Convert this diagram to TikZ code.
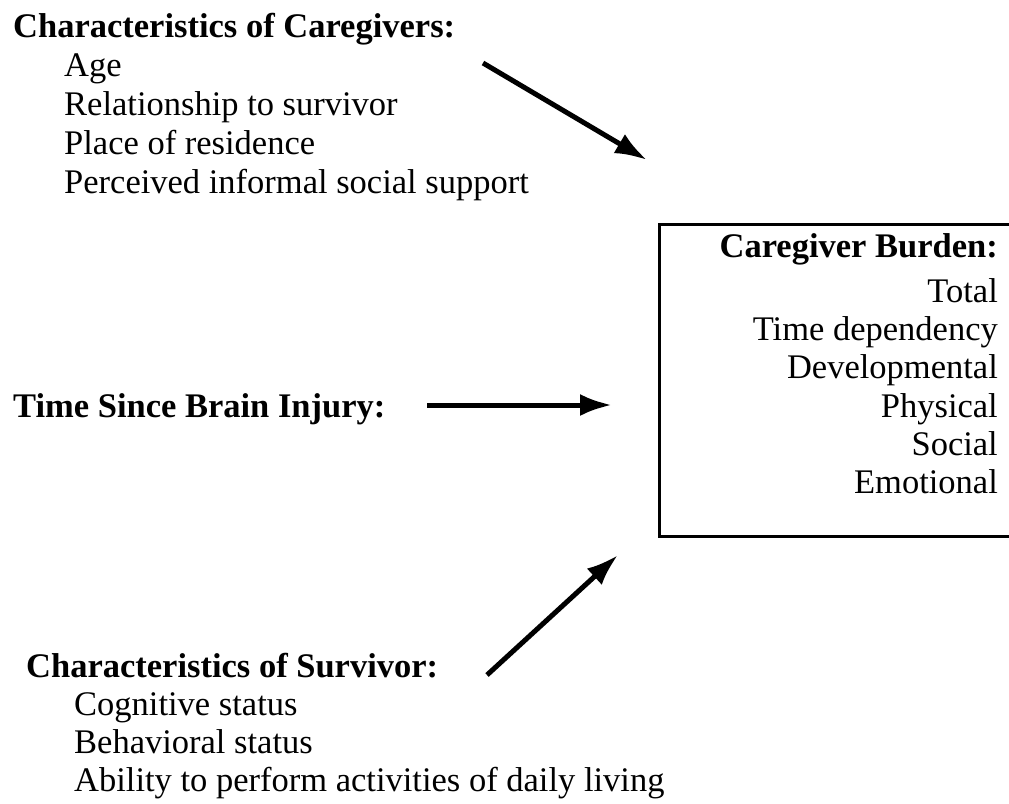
\documentclass[tikz,border=0pt]{standalone}
\usepackage{fontspec}
\setmainfont{Liberation Serif}
\usetikzlibrary{arrows.meta}

\begin{document}
\begin{tikzpicture}[x=1pt,y=-1pt,
  txt/.style={inner sep=0pt,font=\fontsize{34.5}{39}\selectfont},
  hd/.style={inner sep=0pt,font=\fontsize{34.5}{39}\selectfont\bfseries},
  arr/.style={line width=5pt,-{Latex[length=32pt,width=22pt]}}]
\useasboundingbox (0,0) rectangle (1009,803);
% caregivers
\node[hd,anchor=base west] (cg) at (13,37) {Characteristics of Caregivers:};
\foreach \t [count=\i] in {Age,Relationship to survivor,Place of residence,Perceived informal social support}
  \node[txt,anchor=base west] (cg\i) at (64,{37+39*\i}) {\t};
% time since injury
\node[hd,anchor=base west] (tsi) at (13,417) {Time Since Brain Injury:};
% survivor
\node[hd,anchor=base west] (sv) at (26,677) {Characteristics of Survivor:};
\foreach \t [count=\i] in {Cognitive status,Behavioral status,Ability to perform activities of daily living}
  \node[txt,anchor=base west] (sv\i) at (74,{677+38*\i}) {\t};
% burden box
\node[draw,line width=2.8pt,inner sep=0pt,anchor=north west,minimum width=362pt,minimum height=312pt] (box) at (658,223) {};
\node[hd,anchor=base east] (cb) at (998,257) {Caregiver Burden:};
\foreach \t/\y in {Total/302,Time dependency/340,Developmental/378,Physical/417,Social/455,Emotional/493}
  \node[txt,anchor=base east] (cb-\y) at (998,\y) {\t};
% arrows
\coordinate (a1) at (483,63);  \coordinate (b1) at (647,160);
\coordinate (a2) at (427,405); \coordinate (b2) at (612,405);
\coordinate (a3) at (487,675); \coordinate (b3) at (618,555);
\draw[arr] (a1) -- (b1);
\draw[arr] (a2) -- (b2);
\draw[arr] (a3) -- (b3);
\end{tikzpicture}
\end{document}
